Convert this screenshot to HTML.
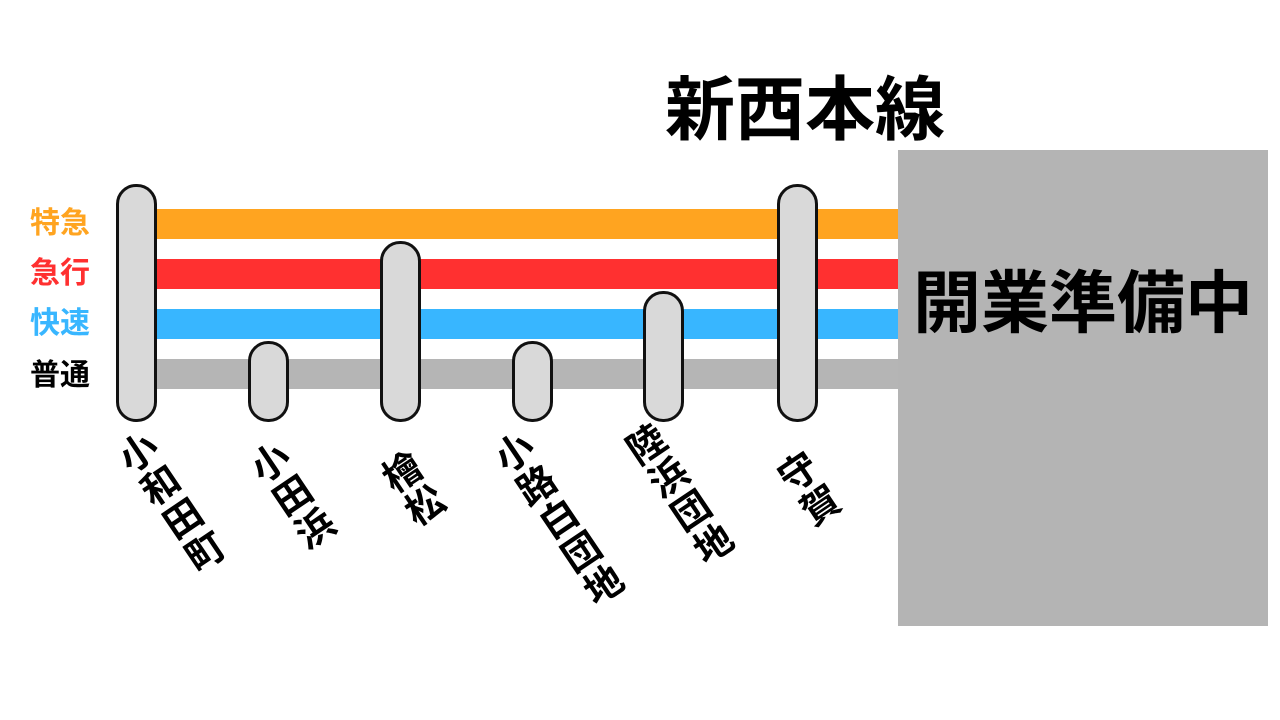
<!DOCTYPE html>
<html><head><meta charset="utf-8"><style>
body{margin:0;width:1280px;height:720px;background:#fff;position:relative;overflow:hidden;font-family:"Liberation Sans","Noto Sans CJK JP",sans-serif;}
div{position:absolute;box-sizing:border-box}
.bar{left:150px;width:760px;height:30px}
.pill{width:41px;background:#d9d9d9;border:3px solid #111;border-radius:20px}
.lab{left:30px;font-size:30px;font-weight:bold;line-height:30px}
.st{writing-mode:vertical-rl;font-size:38px;font-weight:bold;line-height:42px;letter-spacing:2px;transform:rotate(-34deg);transform-origin:0 0;white-space:nowrap;color:#000}
</style></head><body>
<div style="left:620px;top:70px;width:370px;text-align:center;font-size:70px;font-weight:bold;line-height:80px">新西本線</div>
<div class="bar" style="top:209px;background:#ffa420"></div>
<div class="bar" style="top:259px;background:#ff3030"></div>
<div class="bar" style="top:309px;background:#38b6ff"></div>
<div class="bar" style="top:359px;background:#b5b5b5"></div>
<div class="lab" style="top:209px;color:#ffa420">特急</div>
<div class="lab" style="top:259px;color:#ff3030">急行</div>
<div class="lab" style="top:309px;color:#38b6ff">快速</div>
<div class="lab" style="top:361px;color:#000">普通</div>
<div class="pill" style="left:116px;top:184px;height:238px"></div>
<div class="pill" style="left:248px;top:341px;height:81px"></div>
<div class="pill" style="left:380px;top:241px;height:181px"></div>
<div class="pill" style="left:512px;top:341px;height:81px"></div>
<div class="pill" style="left:643px;top:291px;height:131px"></div>
<div class="pill" style="left:777px;top:184px;height:238px"></div>
<div style="left:898px;top:150px;width:370px;height:476px;background:#b4b4b4"></div>
<div style="left:898px;top:262px;width:370px;text-align:center;font-size:68px;font-weight:bold;line-height:84px">開業準備中</div>
<div class="st" style="left:106px;top:450px">小和田町</div>
<div class="st" style="left:238px;top:460px">小田浜</div>
<div class="st" style="left:370px;top:470px">檜松</div>
<div class="st" style="left:482px;top:450px">小路白団地</div>
<div class="st" style="left:614px;top:442px">陸浜団地</div>
<div class="st" style="left:766px;top:470px">守賀</div>
</body></html>
